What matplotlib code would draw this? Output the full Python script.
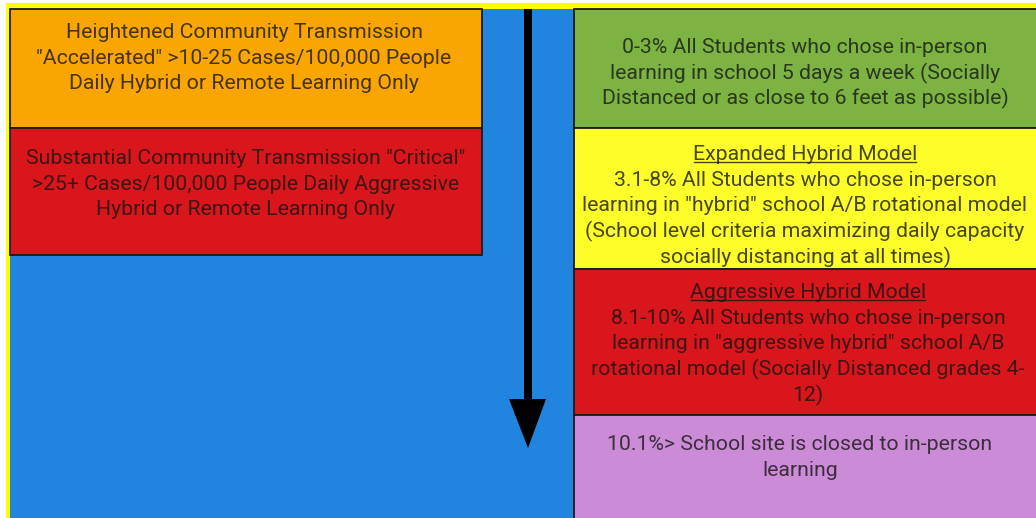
import matplotlib
matplotlib.use('Agg')
import matplotlib.pyplot as plt
from matplotlib.patches import Rectangle, Polygon

# text of each box, line by line
orange_lines = ['Heightened Community Transmission',
                '"Accelerated" >10-25 Cases/100,000 People',
                'Daily Hybrid or Remote Learning Only']
red_left_lines = ['Substantial Community Transmission "Critical"',
                  '>25+ Cases/100,000 People Daily Aggressive',
                  'Hybrid or Remote Learning Only']
green_lines = ['0-3% All Students who chose in-person',
               'learning in school 5 days a week (Socially',
               'Distanced or as close to 6 feet as possible)']
yellow_title = 'Expanded Hybrid Model'
yellow_lines = ['3.1-8% All Students who chose in-person',
                'learning in "hybrid" school A/B rotational model',
                '(School level criteria maximizing daily capacity',
                'socially distancing at all times)']
red_right_title = 'Aggressive Hybrid Model'
red_right_lines = ['8.1-10% All Students who chose in-person',
                   'learning in "aggressive hybrid" school A/B',
                   'rotational model (Socially Distanced grades 4-',
                   '12)']
purple_lines = ['10.1%> School site is closed to in-person',
                'learning']

W, H = 1036, 518
fig = plt.figure(figsize=(W / 100, H / 100), dpi=100)
ax = fig.add_axes([0, 0, 1, 1])
ax.set_xlim(0, W)
ax.set_ylim(H, 0)
ax.axis('off')
fig.patch.set_facecolor('white')

# yellow frame and blue background
ax.add_patch(Rectangle((6, 3), W - 6, H - 3, facecolor='#ffff00', edgecolor='none'))
ax.add_patch(Rectangle((10, 9), W - 10, H - 9, facecolor='#2185e0', edgecolor='none'))

# boxes: (x0, y0, x1, y1, color)
boxes = [
    (10, 9, 482, 128, '#f9a602'),
    (10, 128, 482, 255, '#d8161b'),
    (574, 9, W + 2, 128, '#7cb342'),
    (574, 128, W + 2, 269, '#fdfd2a'),
    (574, 269, W + 2, 415, '#d8161b'),
    (574, 415, W + 2, H + 2, '#cc8bd6'),
]
for x0, y0, x1, y1, c in boxes:
    ax.add_patch(Rectangle((x0, y0), x1 - x0, y1 - y0, facecolor=c,
                           edgecolor='#1a1a1a', linewidth=1.3))

# arrow
ax.add_patch(Rectangle((524, 9), 8, 392, facecolor='black', edgecolor='none'))
ax.add_patch(Polygon([(509, 399), (546, 399), (528, 448)], closed=True,
                     facecolor='black', edgecolor='none'))

fs = 15.3
tkw = dict(ha='center', va='center', fontsize=fs, family=['Roboto', 'DejaVu Sans'],
           color='#141414', alpha=0.78)

def block(lines, cx, y0, step=25.7):
    out = []
    for i, s in enumerate(lines):
        out.append(ax.text(cx, y0 + 1.5 + i * step, s, **tkw))
    return out

block(orange_lines, 244, 31)
block(red_left_lines, 246, 157)
block(green_lines, 805, 46)
t1 = block([yellow_title] + yellow_lines, 805, 153)[0]
t2 = block([red_right_title] + red_right_lines, 808, 291)[0]

# underline the two titles
fig.canvas.draw()
inv = ax.transData.inverted()
for t in (t1, t2):
    bb = t.get_window_extent()
    (xa, ya), (xb, yb) = inv.transform([(bb.x0, bb.y0), (bb.x1, bb.y1)])
    ax.plot([xa + 1, xb - 1], [ya - 2.5, ya - 2.5], color='#141414', alpha=0.78, lw=1.0)

block(purple_lines, 800, 443)

fig.savefig('out.png', dpi=100)
